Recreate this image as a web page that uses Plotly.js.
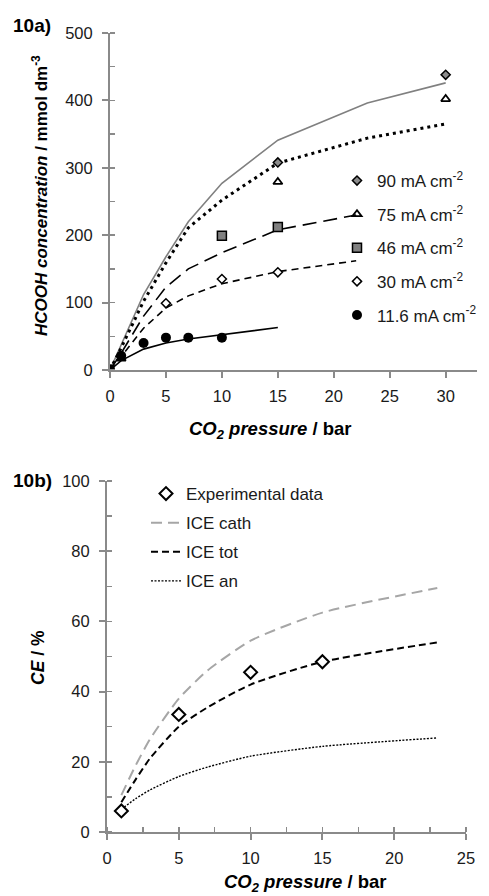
<!DOCTYPE html>
<html>
<head>
<meta charset="utf-8">
<script src="https://cdn.plot.ly/plotly-3.0.1.min.js"></script>
<style>html,body{margin:0;padding:0;background:#fff;}#chart{width:489px;height:896px;}</style>
</head>
<body>
<div id="chart"></div>
<script>
// ---------- Panel 10a: HCOOH concentration vs CO2 pressure ----------
const legendA = ["90 mA cm<sup>-2</sup>", "75 mA cm<sup>-2</sup>", "46 mA cm<sup>-2</sup>", "30 mA cm<sup>-2</sup>", "11.6 mA cm<sup>-2</sup>"];
// experimental points
const expX90 = [15, 30];
const expY90 = [308, 438];
const expX75 = [1, 15, 30];
const expY75 = [17, 279, 402];
const expX46 = [10, 15];
const expY46 = [199, 212];
const expX30 = [5, 10, 15];
const expY30 = [99, 135, 145];
const expX11 = [0, 1, 3, 5, 7, 10];
const expY11 = [1, 21, 40, 48, 48, 48];
// model curves
const modX90 = [0, 1, 3, 5, 7, 10, 15, 23, 30];
const modY90 = [0, 38, 112, 168, 220, 277, 341, 396, 426];
const modX75 = [0, 1, 3, 5, 7, 10, 15, 23, 30];
const modY75 = [0, 33, 102, 159, 211, 252, 307, 344, 365];
const modX46 = [0, 1, 3, 5, 7, 10, 15, 22];
const modY46 = [0, 25, 80, 123, 150, 174, 208, 230];
const modX30 = [0, 1, 3, 5, 7, 10, 15, 22];
const modY30 = [0, 20, 62, 92, 110, 128, 146, 162];
const modX11 = [0, 1, 3, 5, 7, 10, 15];
const modY11 = [0, 14, 31, 40, 46, 52, 63];
const ticksAx = [0, 5, 10, 15, 20, 25, 30];
const ticksAy = [0, 100, 200, 300, 400, 500];

// ---------- Panel 10b: CE vs CO2 pressure ----------
const legendB = ["Experimental data", "ICE cath", "ICE tot", "ICE an"];
const expXB = [1, 5, 10, 15];
const expYB = [6, 33.5, 45.5, 48.5];
const modXB = [1, 2, 3, 5, 7, 10, 15, 23];
const iceCath = [10.5, 19, 26.5, 38, 46, 54.5, 62.5, 69.5];
const iceTot = [8.5, 15, 21, 30, 35.5, 42, 48.5, 54];
const iceAn = [6.5, 9.5, 12, 15.8, 18.5, 21.6, 24.4, 26.8];
const ticksBx = [0, 5, 10, 15, 20, 25];
const ticksBy = [0, 20, 40, 60, 80, 100];

const FONT = "Liberation Sans, Arial, sans-serif";
const AX = "#8a8a8a";
const TXT = "#1a1a1a";

const traces = [
  // model lines panel a
  {x: modX90, y: modY90, mode: "lines", line: {color: "#808080", width: 1.6}, showlegend: false, xaxis: "x", yaxis: "y"},
  {x: modX75, y: modY75, mode: "lines", line: {color: "#000", width: 3, dash: "3px,4px"}, showlegend: false, xaxis: "x", yaxis: "y"},
  {x: modX46, y: modY46, mode: "lines", line: {color: "#000", width: 1.6, dash: "14px,7px"}, showlegend: false, xaxis: "x", yaxis: "y"},
  {x: modX30, y: modY30, mode: "lines", line: {color: "#000", width: 1.6, dash: "7px,5px"}, showlegend: false, xaxis: "x", yaxis: "y"},
  {x: modX11, y: modY11, mode: "lines", line: {color: "#000", width: 1.6}, showlegend: false, xaxis: "x", yaxis: "y"},
  // experimental panel a
  {x: expX90, y: expY90, name: legendA[0], mode: "markers", legendgroup: "a1", legend: "legend", legendrank: 1,
   marker: {symbol: "diamond", size: 7, color: "#8c8c8c", line: {color: "#000", width: 1.5}}, xaxis: "x", yaxis: "y"},
  {x: expX75, y: expY75, name: legendA[1], mode: "markers", legendgroup: "a2", legend: "legend", legendrank: 2,
   marker: {symbol: "triangle-up-open", size: 8, color: "#000", line: {color: "#000", width: 1.8}}, xaxis: "x", yaxis: "y"},
  {x: expX46, y: expY46, name: legendA[2], mode: "markers", legendgroup: "a3", legend: "legend", legendrank: 3,
   marker: {symbol: "square", size: 9, color: "#808080", line: {color: "#000", width: 1.5}}, xaxis: "x", yaxis: "y"},
  {x: expX30, y: expY30, name: legendA[3], mode: "markers", legendgroup: "a4", legend: "legend", legendrank: 4,
   marker: {symbol: "diamond", size: 7, color: "#fff", line: {color: "#000", width: 1.5}}, xaxis: "x", yaxis: "y"},
  {x: expX11, y: expY11, name: legendA[4], mode: "markers", legendgroup: "a5", legend: "legend", legendrank: 5,
   marker: {symbol: "circle", size: 10, color: "#000", line: {color: "#000", width: 0}}, xaxis: "x", yaxis: "y"},
  // panel b
  {x: modXB, y: iceCath, name: legendB[1], mode: "lines", legend: "legend2", legendgroup: "b2", legendrank: 2,
   line: {color: "#a6a6a6", width: 2, dash: "11px,6px", shape: "spline", smoothing: 0.6}, xaxis: "x2", yaxis: "y2"},
  {x: modXB, y: iceTot, name: legendB[2], mode: "lines", legend: "legend2", legendgroup: "b3", legendrank: 3,
   line: {color: "#000", width: 2, dash: "7px,4px", shape: "spline", smoothing: 0.6}, xaxis: "x2", yaxis: "y2"},
  {x: modXB, y: iceAn, name: legendB[3], mode: "lines", legend: "legend2", legendgroup: "b4", legendrank: 4,
   line: {color: "#000", width: 1.4, dash: "2px,1.5px", shape: "spline", smoothing: 0.6}, xaxis: "x2", yaxis: "y2"},
  {x: expXB, y: expYB, name: legendB[0], mode: "markers", legend: "legend2", legendgroup: "b1", legendrank: 1,
   marker: {symbol: "diamond", size: 10, color: "#fff", line: {color: "#000", width: 2}}, xaxis: "x2", yaxis: "y2"}
];

function mainAxis(domain, range, tickvals, anchor, minorDtick, extra) {
  const ax = Object.assign({
    domain: domain, range: range, anchor: anchor, tickmode: "array", tickvals: tickvals,
    showgrid: false, zeroline: false, showline: true, linecolor: AX, linewidth: 2,
    ticks: "outside", ticklen: 6, tickwidth: 2, tickcolor: AX,
    tickfont: {family: FONT, size: 16.5, color: TXT}, fixedrange: true
  }, extra || {});
  if (minorDtick) ax.minor = {dtick: minorDtick, ticks: "inside", ticklen: 5, tickwidth: 1.5, tickcolor: AX, showgrid: false};
  return ax;
}
function overAxis(over, range, tickvals, anchor, domainSide) {
  return {overlaying: over, range: range, anchor: anchor, tickmode: "array", tickvals: tickvals,
    showgrid: false, zeroline: false, showline: false, ticks: "inside", ticklen: 6, tickwidth: 2, tickcolor: AX,
    showticklabels: false, fixedrange: true, side: domainSide};
}

const W = 489, H = 896;
const px = v => v / W, py = v => 1 - v / H;
function ann(text, x, y, angle, size) {
  return {text: text, x: px(x), y: py(y), xref: "paper", yref: "paper", xanchor: "center", yanchor: "middle",
    showarrow: false, textangle: angle || 0, font: {family: FONT, size: size || 17, color: "#000"}};
}

const layout = {
  width: W, height: H, margin: {l: 0, r: 0, t: 0, b: 0},
  paper_bgcolor: "#fff", plot_bgcolor: "rgba(0,0,0,0)",
  font: {family: FONT, color: TXT},
  xaxis: mainAxis([px(110), px(477)], [0, 32.8], ticksAx, "y", null, {ticklabelstandoff: 4}),
  yaxis: mainAxis([py(370), py(33)], [0, 500], ticksAy, "x", 50, {ticklabelstandoff: 6}),
  xaxis2: mainAxis([px(107), px(466)], [0, 25], ticksBx, "y2", 2.5, {ticklabelstandoff: 4}),
  yaxis2: mainAxis([py(832), py(481)], [0, 100], ticksBy, "x2", 10, {ticklabelstandoff: 6}),
  xaxis3: overAxis("x", [0, 32.8], ticksAx, "y", "bottom"),
  yaxis3: overAxis("y", [0, 500], ticksAy, "x", "left"),
  xaxis4: overAxis("x2", [0, 25], ticksBx, "y2", "bottom"),
  yaxis4: overAxis("y2", [0, 100], ticksBy, "x2", "left"),
  legend: {x: px(337), y: py(163), xanchor: "left", yanchor: "top", bgcolor: "rgba(0,0,0,0)",
    font: {family: FONT, size: 17, color: TXT}, traceorder: "grouped", tracegroupgap: 8.5, itemwidth: 30},
  legend2: {x: px(146), y: py(476), xanchor: "left", yanchor: "top", bgcolor: "rgba(0,0,0,0)",
    font: {family: FONT, size: 17, color: TXT}, traceorder: "grouped", tracegroupgap: 4, itemwidth: 30},
  annotations: [
    ann("<b>10a)</b>", 32, 26, 0, 19),
    ann("<b>10b)</b>", 32, 480, 0, 19),
    ann("<b><i>HCOOH concentration</i> / mmol dm<sup>-3</sup></b>", 40, 196, -90, 17),
    ann("<b><i>CO<sub>2</sub> pressure</i> / bar</b>", 270, 430, 0, 18.5),
    ann("<b><i>CE</i> / %</b>", 38, 658, -90, 17.5),
    ann("<b><i>CO<sub>2</sub> pressure</i> / bar</b>", 305, 883, 0, 18.5)
  ],
  showlegend: true
};

Plotly.newPlot("chart", traces, layout, {staticPlot: true, displayModeBar: false});
</script>
</body>
</html>
